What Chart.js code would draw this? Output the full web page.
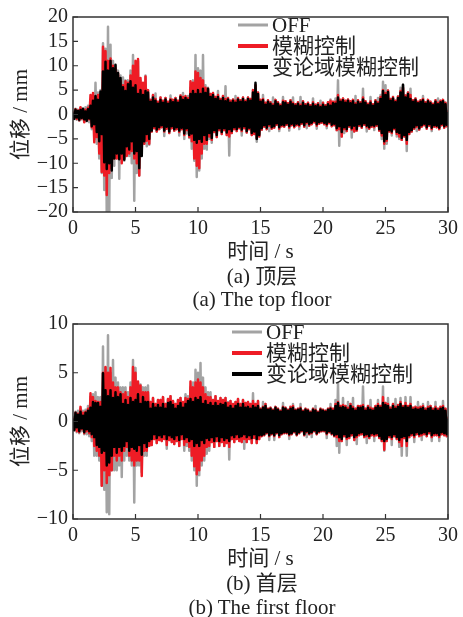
<!DOCTYPE html>
<html>
<head>
<meta charset="utf-8">
<title>位移时程曲线</title>
<script src="https://cdn.jsdelivr.net/npm/chart.js@4.4.1/dist/chart.umd.min.js"></script>
<style>
    html, body { margin: 0; padding: 0; background: #fff; }
    body {
        width: 463px; height: 617px; position: relative; overflow: hidden;
        font-family: 'Liberation Serif', 'Noto Sans CJK SC', serif; color: #222;
    }
    canvas { position: absolute; left: 0; }
    #chart-top { top: 0; }
    #chart-bottom { top: 307px; }
    .caption {
        position: absolute; left: 73px; width: 378px;
        text-align: center; font-size: 21px; line-height: 24px; white-space: nowrap;
    }
</style>
</head>
<body>
<canvas id="chart-top" width="463" height="265"></canvas>
<canvas id="chart-bottom" width="463" height="265"></canvas>
<div class="caption" style="top:264px">(a) 顶层</div>
<div class="caption" style="top:287px">(a) The top floor</div>
<div class="caption" style="top:571px">(b) 首层</div>
<div class="caption" style="top:595px">(b) The first floor</div>

<script>
// displacement time histories, one sample every 0.1 s (0 - 30 s)

const sampleStep = 0.1;
const seriesNames = ['OFF', '模糊控制', '变论域模糊控制'];
const seriesColors = ['#a3a3a3', '#ee1c25', '#000000'];

const timeTicks = [0, 5, 10, 15, 20, 25, 30];
const topTicks = [-20, -15, -10, -5, 0, 5, 10, 15, 20];
const bottomTicks = [-10, -5, 0, 5, 10];

// (a) top floor
const offTop = [
    0.8,-0.9,1.2,-1.1,1.0,-1.3,1.4,-1.0,1.2,-1.5,
    1.5,-1.4,1.8,-1.6,3.0,-3.0,4.0,-5.0,6.5,-6.0,
    4.5,-9.0,5.0,-12.0,14.6,-15.5,13.5,-20.5,18.0,-20.5,
    14.3,-13.0,11.0,-10.5,10.0,-9.0,9.0,-13.2,8.0,-9.0,
    7.6,-9.5,7.0,-8.0,7.0,-8.5,9.0,-10.0,12.2,-17.7,
    10.0,-12.0,11.0,-12.5,7.0,-7.0,6.0,-6.0,8.0,-6.5,
    5.0,-6.2,3.0,-3.5,4.0,-2.8,4.3,-3.5,2.6,-3.0,
    3.5,-2.6,2.8,-4.4,3.4,-2.9,2.6,-3.8,3.9,-2.8,
    3.0,-3.3,3.4,-3.0,2.8,-4.3,3.9,-3.0,4.4,-5.0,
    3.6,-3.9,3.8,-4.8,5.5,-7.0,7.0,-9.5,12.2,-12.8,
    9.5,-11.5,9.0,-9.0,12.2,-7.0,6.0,-7.2,5.5,-5.0,
    4.2,-5.8,4.4,-3.6,3.6,-4.6,4.8,-3.2,3.2,-4.0,
    3.8,-3.2,5.8,-4.2,3.4,-8.4,2.8,-3.8,3.1,-3.0,
    3.8,-3.4,3.4,-2.8,2.9,-4.3,3.5,-2.8,2.8,-3.7,
    3.5,-3.0,3.2,-4.2,5.0,-4.0,6.0,-5.6,4.5,-4.5,
    3.0,-3.1,4.0,-2.5,2.4,-3.0,2.9,-3.4,2.5,-2.9,
    3.5,-2.7,3.0,-2.1,2.5,-3.4,2.0,-2.4,3.6,-2.5,
    2.7,-2.1,2.3,-3.3,2.9,-2.2,3.5,-2.6,2.1,-2.2,
    2.5,-3.0,3.6,-1.9,2.7,-2.5,2.1,-2.8,2.4,-2.3,
    1.9,-2.0,3.3,-1.6,2.0,-2.9,2.3,-1.9,2.8,-1.7,
    2.4,-2.0,1.9,-2.8,2.5,-1.8,3.1,-2.4,2.6,-2.2,
    3.3,-3.2,7.0,-6.4,3.0,-4.5,3.3,-3.8,2.8,-3.4,
    3.1,-2.5,2.7,-4.7,3.0,-3.5,3.8,-3.3,2.9,-2.3,
    2.5,-2.7,5.3,-2.1,2.7,-3.5,2.2,-2.9,3.6,-2.5,
    2.1,-3.2,2.9,-2.3,3.4,-3.3,4.0,-5.0,6.7,-7.0,
    6.0,-6.0,4.9,-3.5,3.2,-4.3,3.6,-3.0,2.8,-4.5,
    3.7,-5.0,5.5,-5.2,6.1,-4.5,3.9,-7.5,4.5,-4.0,
    5.3,-3.5,2.9,-2.9,3.3,-3.4,2.6,-3.1,2.9,-2.5,
    3.8,-2.2,2.5,-2.9,3.0,-2.3,2.6,-3.4,2.2,-2.5,
    2.9,-2.6,3.3,-3.0,2.8,-2.2,3.0,-2.7,2.4,-2.4,
    1.0
];
const fuzzyTop = [
    0.6,-0.7,1.1,-0.9,0.8,-1.2,1.5,-0.8,1.0,-1.6,
    1.0,-1.1,1.4,-1.0,4.0,-2.6,4.4,-5.7,3.6,-4.6,
    4.0,-8.0,4.2,-11.8,13.9,-12.5,13.0,-16.5,11.0,-12.0,
    11.5,-11.0,10.0,-9.0,9.5,-9.0,8.5,-9.0,7.0,-10.0,
    6.0,-9.0,6.8,-8.5,6.5,-8.0,8.0,-7.5,10.0,-9.0,
    11.0,-10.0,11.4,-12.5,7.5,-7.0,6.5,-6.0,7.8,-5.4,
    5.0,-6.0,3.0,-3.5,4.0,-2.8,3.2,-3.5,2.6,-3.0,
    3.5,-2.6,2.8,-3.5,3.4,-2.9,2.6,-3.8,3.2,-2.8,
    3.0,-3.3,3.4,-3.0,2.8,-3.6,3.9,-3.0,3.6,-4.2,
    3.8,-3.2,3.4,-4.6,6.8,-5.5,6.5,-9.0,8.8,-10.5,
    8.5,-11.0,7.5,-8.0,7.0,-6.0,5.5,-6.0,5.3,-4.5,
    4.2,-5.2,4.4,-3.6,3.6,-4.6,4.0,-3.2,3.2,-4.0,
    3.8,-3.2,3.2,-4.2,3.4,-4.5,2.8,-3.8,3.1,-3.0,
    2.8,-3.4,3.4,-2.8,2.9,-3.4,3.5,-2.8,2.8,-3.7,
    3.5,-3.0,3.2,-4.2,5.0,-4.0,6.0,-4.8,4.5,-4.5,
    3.0,-3.1,3.2,-2.5,2.4,-3.0,2.9,-2.3,2.5,-2.9,
    2.1,-2.7,3.0,-2.1,2.5,-2.9,2.0,-2.4,2.8,-2.5,
    2.7,-2.1,2.3,-2.7,2.9,-2.2,2.4,-2.6,2.1,-2.2,
    2.5,-2.4,2.0,-1.9,2.7,-2.5,2.1,-1.8,2.4,-2.3,
    1.9,-2.0,2.5,-1.6,2.0,-2.3,2.3,-1.9,1.8,-1.7,
    2.4,-2.0,1.9,-2.3,2.5,-1.8,2.8,-2.4,2.6,-2.2,
    2.6,-3.2,4.0,-3.0,3.0,-4.5,3.3,-3.0,2.8,-3.4,
    3.1,-2.5,2.7,-3.1,3.0,-3.5,2.3,-3.3,2.9,-2.3,
    2.5,-2.7,3.5,-2.1,2.7,-2.6,2.2,-2.9,2.7,-2.5,
    2.1,-2.6,2.9,-2.3,2.5,-3.3,3.6,-4.3,5.0,-6.0,
    4.4,-5.4,4.9,-3.5,3.2,-3.8,3.6,-3.0,2.8,-4.0,
    3.7,-4.5,4.8,-5.2,5.5,-4.5,3.9,-6.0,4.5,-4.0,
    4.0,-3.5,2.9,-2.9,3.3,-2.5,2.6,-3.1,2.9,-2.5,
    3.2,-2.2,2.5,-2.9,3.0,-2.3,2.6,-3.0,2.2,-2.5,
    2.9,-2.6,2.4,-3.0,2.8,-2.2,3.0,-2.7,2.4,-2.4,
    0.8
];
const vudTop = [
    0.4,-0.9,1.0,-0.6,0.7,-1.1,0.9,-0.7,1.2,-1.0,
    0.6,-1.3,1.1,-0.8,1.8,-2.4,2.8,-2.0,3.8,-3.6,
    3.0,-5.5,4.7,-4.0,8.8,-9.8,10.8,-11.2,9.0,-10.0,
    11.0,-11.5,9.5,-9.0,10.2,-8.0,8.5,-9.2,7.5,-8.0,
    5.6,-9.3,4.8,-6.5,6.2,-7.2,6.8,-5.5,5.5,-8.0,
    6.0,-7.5,4.2,-11.0,5.0,-8.5,4.0,-5.5,4.8,-4.0,
    4.5,-5.0,2.6,-3.3,3.5,-2.4,2.8,-3.1,2.2,-2.6,
    3.0,-2.2,2.4,-3.3,3.1,-2.5,2.2,-3.5,2.9,-2.4,
    2.5,-3.0,3.1,-2.6,2.4,-3.3,3.6,-2.7,3.0,-3.9,
    3.4,-2.8,3.0,-4.2,4.2,-3.9,4.8,-5.2,4.2,-5.8,
    5.0,-5.0,4.2,-5.6,5.3,-4.2,4.4,-5.2,5.3,-3.8,
    3.6,-4.8,4.0,-3.2,3.2,-4.2,3.6,-2.8,2.8,-3.6,
    3.4,-2.8,2.7,-3.7,3.1,-3.0,2.4,-3.4,2.8,-2.6,
    2.4,-3.0,3.1,-2.5,2.6,-3.1,3.2,-2.4,2.5,-3.4,
    3.2,-2.7,2.8,-3.8,4.5,-3.5,6.5,-5.0,4.2,-4.2,
    2.6,-2.8,2.9,-2.2,2.0,-2.7,2.6,-2.0,2.2,-2.6,
    1.8,-2.4,2.7,-1.8,2.2,-2.6,1.7,-2.1,2.5,-2.2,
    2.4,-1.8,2.0,-2.4,2.6,-1.9,2.1,-2.3,1.8,-1.9,
    2.2,-2.1,1.7,-1.6,2.4,-2.2,1.8,-1.5,2.1,-2.0,
    1.6,-1.7,2.2,-1.3,1.7,-2.0,2.0,-1.6,1.5,-1.4,
    2.0,-1.7,1.6,-2.0,2.1,-1.5,1.8,-2.1,2.3,-1.9,
    2.2,-2.8,3.5,-2.4,2.6,-3.6,2.9,-2.6,2.4,-3.0,
    2.8,-2.2,2.3,-2.8,2.7,-2.3,2.0,-3.0,2.6,-2.0,
    2.2,-2.4,3.1,-1.8,2.4,-2.3,1.9,-2.6,2.4,-2.2,
    1.8,-2.3,2.6,-2.0,2.2,-3.0,3.2,-3.8,4.8,-5.5,
    4.0,-5.0,4.6,-3.2,2.8,-3.5,3.3,-2.7,2.5,-3.6,
    3.4,-3.8,4.5,-4.8,6.1,-4.2,3.5,-5.2,4.2,-3.6,
    3.2,-3.2,2.6,-2.6,3.0,-2.2,2.3,-2.8,2.6,-2.2,
    2.9,-1.9,2.2,-2.6,2.7,-2.0,2.3,-2.7,1.9,-2.2,
    2.6,-2.3,2.1,-2.7,2.5,-1.9,2.7,-2.4,2.1,-2.1,
    0.5
];

// (b) first floor
const offBottom = [
    0.6,-0.9,1.0,-1.1,1.1,-1.2,1.3,-1.0,1.1,-1.3,
    1.2,-1.3,1.6,-1.5,2.5,-2.0,2.8,-3.5,3.0,-3.5,
    2.5,-4.0,2.5,-6.6,7.7,-7.0,5.5,-9.3,8.85,-9.5,
    5.0,-5.0,6.3,-5.0,4.5,-5.0,4.0,-4.5,3.5,-5.7,
    3.5,-4.0,3.5,-3.5,3.0,-4.0,4.0,-4.5,6.3,-8.3,
    5.5,-4.5,4.0,-4.5,3.8,-5.2,3.5,-3.5,3.5,-3.5,
    3.7,-2.5,2.0,-2.4,2.4,-1.8,1.8,-2.2,2.2,-1.9,
    2.2,-2.0,2.5,-1.8,1.8,-2.8,2.3,-1.9,2.6,-2.1,
    2.1,-2.3,1.8,-2.0,2.2,-2.5,2.4,-1.8,2.0,-3.0,
    2.8,-2.5,2.6,-3.0,3.5,-4.0,4.0,-5.0,5.3,-6.6,
    5.0,-5.5,6.0,-4.5,4.5,-4.0,3.5,-3.3,3.0,-3.0,
    3.0,-2.1,2.2,-2.6,2.6,-2.0,2.1,-2.5,2.4,-2.1,
    2.2,-2.5,2.4,-2.2,2.0,-3.9,2.1,-1.8,1.8,-2.1,
    2.0,-1.8,2.3,-2.0,1.8,-2.1,2.2,-2.8,1.9,-2.1,
    2.0,-1.8,1.8,-2.2,2.9,-1.7,1.8,-2.2,2.1,-1.8,
    1.3,-1.5,2.0,-1.4,1.8,-1.2,1.3,-1.9,1.4,-1.3,
    1.2,-1.9,1.5,-1.2,1.3,-1.6,1.1,-1.3,1.9,-1.2,
    1.4,-1.2,1.2,-1.8,1.5,-1.3,1.8,-1.1,1.2,-1.4,
    1.3,-1.2,1.8,-1.0,1.1,-1.4,1.3,-1.6,1.2,-1.3,
    1.0,-1.6,1.3,-1.0,1.6,-1.3,1.0,-1.1,1.3,-1.0,
    1.2,-1.0,1.1,-1.7,1.3,-1.1,1.8,-1.3,1.3,-1.5,
    2.2,-2.5,3.9,-3.2,1.6,-2.0,2.4,-1.5,1.6,-2.4,
    2.0,-1.7,1.8,-1.4,2.4,-1.9,1.3,-2.3,1.6,-1.4,
    1.6,-1.3,3.6,-1.6,1.3,-2.2,1.6,-1.7,2.2,-1.4,
    1.3,-2.0,1.6,-1.4,2.2,-1.7,1.6,-2.0,3.6,-3.0,
    1.9,-2.0,2.4,-1.6,1.4,-2.4,1.8,-1.5,2.3,-1.8,
    1.7,-2.6,2.4,-3.5,1.6,-1.7,2.5,-3.5,1.6,-1.6,
    2.5,-1.4,1.4,-2.1,1.5,-1.3,2.0,-1.5,1.5,-1.9,
    1.8,-1.3,1.3,-1.5,2.0,-1.2,1.6,-2.0,1.3,-1.4,
    2.0,-1.4,1.3,-2.0,1.5,-1.3,2.1,-1.4,1.3,-1.5,
    0.5
];
const fuzzyBottom = [
    0.4,-0.8,0.9,-1.0,0.8,-1.1,1.5,-0.8,0.9,-1.2,
    1.0,-1.0,1.3,-1.2,2.9,-1.6,2.5,-2.5,2.1,-3.0,
    2.0,-3.5,2.0,-6.6,5.0,-5.0,5.6,-6.3,5.0,-5.5,
    5.5,-5.0,4.0,-3.5,3.5,-4.0,3.5,-3.5,3.0,-4.0,
    2.8,-3.0,3.0,-2.6,2.5,-3.5,3.5,-4.0,5.6,-4.5,
    5.0,-4.0,4.1,-4.0,3.7,-5.6,3.0,-3.0,3.0,-3.0,
    3.0,-2.5,2.0,-2.4,2.4,-1.8,1.8,-2.2,2.2,-1.9,
    2.2,-2.0,2.5,-1.8,1.8,-2.4,2.3,-1.9,2.6,-2.1,
    2.1,-2.3,1.8,-2.0,2.2,-2.5,2.4,-1.8,2.0,-2.4,
    2.4,-2.1,2.3,-2.6,4.1,-3.5,3.5,-4.6,4.0,-5.4,
    4.3,-5.0,4.0,-4.0,3.5,-3.5,2.8,-2.6,2.5,-2.5,
    2.5,-2.1,2.2,-2.6,2.6,-2.0,2.1,-2.5,2.4,-2.1,
    2.2,-2.5,2.4,-2.2,1.9,-2.6,2.1,-1.8,1.8,-2.1,
    2.0,-1.8,2.3,-2.0,1.8,-2.1,2.2,-1.8,1.9,-2.1,
    2.0,-1.8,1.8,-2.2,2.1,-1.7,1.8,-2.2,2.1,-1.8,
    1.3,-1.5,1.5,-1.4,1.8,-1.2,1.3,-1.5,1.4,-1.3,
    1.2,-1.5,1.5,-1.2,1.3,-1.6,1.1,-1.3,1.5,-1.2,
    1.4,-1.2,1.2,-1.4,1.5,-1.3,1.6,-1.1,1.2,-1.4,
    1.3,-1.2,1.4,-1.0,1.1,-1.4,1.3,-1.1,1.2,-1.3,
    1.0,-1.2,1.3,-1.0,1.2,-1.3,1.0,-1.1,1.3,-1.0,
    1.2,-1.0,1.1,-1.3,1.3,-1.1,1.4,-1.3,1.3,-1.5,
    1.8,-1.6,2.0,-2.0,1.6,-2.0,1.7,-1.5,1.6,-1.8,
    1.4,-1.7,1.8,-1.4,1.5,-1.9,1.3,-1.6,1.6,-1.4,
    1.6,-1.3,1.7,-1.6,1.3,-1.5,1.6,-1.7,1.4,-1.4,
    1.3,-1.5,1.6,-1.4,1.8,-1.7,1.6,-2.0,2.5,-2.9,
    1.9,-2.0,1.8,-1.6,1.4,-1.8,1.8,-1.5,1.5,-1.8,
    1.7,-2.1,2.0,-2.5,1.6,-1.7,1.9,-2.5,1.6,-1.6,
    1.8,-1.4,1.4,-1.6,1.5,-1.3,1.4,-1.5,1.5,-1.4,
    1.6,-1.3,1.3,-1.5,1.5,-1.2,1.6,-1.6,1.3,-1.4,
    1.5,-1.4,1.3,-1.6,1.5,-1.3,1.6,-1.4,1.3,-1.5,
    0.5
];
const vudBottom = [
    0.3,-0.9,0.9,-0.6,0.7,-1.0,1.0,-0.7,0.6,-1.1,
    0.9,-0.8,1.1,-1.0,1.4,-1.3,2.0,-1.6,1.9,-2.4,
    1.9,-2.6,1.5,-3.2,4.95,-3.0,3.2,-4.5,2.6,-4.2,
    3.2,-3.5,2.4,-2.6,3.0,-3.2,2.5,-2.6,2.8,-3.0,
    1.8,-2.5,2.2,-2.0,1.7,-3.0,2.4,-2.6,2.0,-2.8,
    2.2,-3.0,2.8,-2.4,1.8,-3.4,2.5,-2.2,2.0,-2.6,
    2.0,-2.0,1.3,-1.8,1.8,-1.3,1.4,-1.7,1.7,-1.4,
    1.4,-1.6,1.8,-1.3,1.3,-1.8,1.9,-1.4,2.0,-1.6,
    1.7,-1.8,1.3,-1.4,1.6,-1.9,1.9,-1.3,1.4,-1.8,
    1.8,-1.6,2.1,-2.0,2.3,-1.8,2.0,-2.5,2.4,-2.2,
    2.2,-2.5,2.5,-1.9,1.8,-2.2,2.1,-1.7,1.7,-1.9,
    1.9,-1.6,1.6,-2.0,1.9,-1.5,1.6,-2.0,1.8,-1.6,
    1.7,-1.9,1.9,-1.7,1.4,-2.0,1.6,-1.4,1.3,-1.6,
    1.6,-1.3,1.8,-1.6,1.4,-1.5,1.8,-1.3,1.4,-1.6,
    1.5,-1.4,1.3,-1.7,1.6,-1.3,1.4,-1.8,1.6,-1.4,
    1.2,-1.4,1.4,-1.3,1.6,-1.1,1.2,-1.4,1.3,-1.2,
    1.1,-1.4,1.4,-1.1,1.2,-1.4,1.0,-1.2,1.4,-1.1,
    1.3,-1.1,1.1,-1.3,1.3,-1.2,1.4,-1.0,1.1,-1.3,
    1.2,-1.1,1.3,-0.9,1.0,-1.3,1.2,-1.0,1.1,-1.2,
    0.9,-1.1,1.2,-0.9,1.1,-1.2,0.9,-1.0,1.2,-0.9,
    1.1,-0.9,1.0,-1.2,1.2,-1.0,1.3,-1.2,1.1,-1.4,
    1.6,-1.3,1.9,-1.6,1.4,-1.8,1.5,-1.3,1.4,-1.6,
    1.2,-1.5,1.6,-1.2,1.3,-1.6,1.1,-1.4,1.4,-1.2,
    1.4,-1.1,1.5,-1.4,1.1,-1.3,1.4,-1.5,1.2,-1.2,
    1.1,-1.3,1.4,-1.2,1.6,-1.5,1.4,-1.8,1.9,-2.0,
    1.7,-1.8,1.6,-1.4,1.2,-1.6,1.6,-1.3,1.3,-1.6,
    1.5,-1.9,1.8,-1.6,1.4,-1.5,1.6,-2.0,1.4,-1.4,
    1.6,-1.2,1.2,-1.4,1.3,-1.1,1.2,-1.3,1.3,-1.2,
    1.4,-1.1,1.1,-1.3,1.3,-1.0,1.4,-1.4,1.1,-1.2,
    1.3,-1.2,1.1,-1.4,1.3,-1.1,1.4,-1.2,1.1,-1.3,
    0.3
];

const fontFamily = "'Liberation Serif', 'Noto Sans CJK SC', serif";
const textColor = '#222';

// plot frame, inward tick marks and the legend in the upper right
const framePlugin = {
    id: 'frame',
    afterDraw(chart, args, opts) {
        const { ctx, chartArea: area, scales } = chart;
        ctx.save();

        ctx.strokeStyle = '#333';
        ctx.lineWidth = 1.5;
        ctx.strokeRect(area.left, area.top, area.right - area.left, area.bottom - area.top);

        ctx.lineWidth = 1.2;
        ctx.beginPath();
        scales.x.ticks.forEach(t => {
            const px = scales.x.getPixelForValue(t.value);
            ctx.moveTo(px, area.bottom);
            ctx.lineTo(px, area.bottom - 5);
        });
        scales.y.ticks.forEach(t => {
            const py = scales.y.getPixelForValue(t.value);
            ctx.moveTo(area.left, py);
            ctx.lineTo(area.left + 5, py);
        });
        ctx.stroke();

        ctx.font = `21px ${fontFamily}`;
        ctx.textBaseline = 'middle';
        chart.data.datasets.forEach((ds, i) => {
            const y = opts.y + i * 21;
            ctx.strokeStyle = ds.borderColor;
            ctx.lineWidth = i === 0 ? 3 : 4;
            ctx.beginPath();
            ctx.moveTo(opts.x, y);
            ctx.lineTo(opts.x + 30, y);
            ctx.stroke();
            ctx.fillStyle = textColor;
            ctx.fillText(ds.label, opts.x + 34, y + 1);
        });

        ctx.restore();
    }
};

function toPoints(values) {
    return values.map((v, i) => ({ x: i * sampleStep, y: v }));
}

function makeChart(canvasId, series, yTicks, legendX) {
    const ctx = document.getElementById(canvasId).getContext('2d');
    const yMax = yTicks[yTicks.length - 1];

    return new Chart(ctx, {
        type: 'line',
        data: {
            datasets: series.map((values, i) => ({
                label: seriesNames[i],
                data: toPoints(values),
                borderColor: seriesColors[i],
                borderWidth: 2.5,
                borderJoinStyle: 'round',
                pointRadius: 0,
                tension: 0,
                fill: false,
                clip: 0,
                order: series.length - i
            }))
        },
        options: {
            responsive: false,
            animation: false,
            events: [],
            layout: {
                padding: { top: 15, right: 12, left: 0, bottom: 0 }
            },
            plugins: {
                legend: { display: false },
                tooltip: { enabled: false },
                frame: { x: legendX, y: 25 }
            },
            scales: {
                x: {
                    type: 'linear',
                    min: 0,
                    max: 30,
                    afterBuildTicks: axis => { axis.ticks = timeTicks.map(v => ({ value: v })); },
                    afterFit: axis => { axis.height = 53; },
                    grid: { display: false, drawTicks: false },
                    border: { display: false },
                    ticks: {
                        autoSkip: false,
                        maxRotation: 0,
                        padding: 5,
                        color: textColor,
                        font: { family: fontFamily, size: 20 }
                    },
                    title: {
                        display: true,
                        text: '时间 / s',
                        color: textColor,
                        padding: { top: 0, bottom: 0 },
                        font: { family: fontFamily, size: 21 }
                    }
                },
                y: {
                    min: -yMax,
                    max: yMax,
                    afterBuildTicks: axis => { axis.ticks = yTicks.map(v => ({ value: v })); },
                    afterFit: axis => { axis.width = 73; },
                    grid: { display: false, drawTicks: false },
                    border: { display: false },
                    ticks: {
                        autoSkip: false,
                        padding: 5,
                        color: textColor,
                        font: { family: fontFamily, size: 20 },
                        callback: v => String(v).replace('-', '\u2212')
                    },
                    title: {
                        display: true,
                        text: '位移 / mm',
                        color: textColor,
                        padding: { top: 9, bottom: 0 },
                        font: { family: fontFamily, size: 21 }
                    }
                }
            }
        },
        plugins: [framePlugin]
    });
}

makeChart('chart-top', [offTop, fuzzyTop, vudTop], topTicks, 238);
makeChart('chart-bottom', [offBottom, fuzzyBottom, vudBottom], bottomTicks, 232);
</script>
</body>
</html>
